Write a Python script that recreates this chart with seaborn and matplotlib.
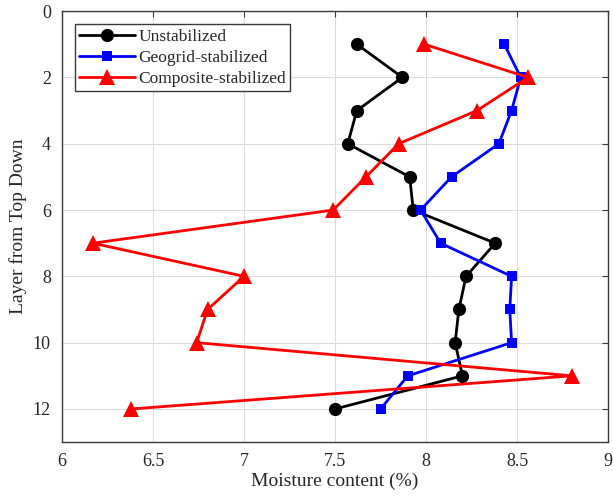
import pandas as pd
import matplotlib
matplotlib.use("Agg")
import matplotlib.pyplot as plt
import seaborn as sns

# Moisture content (%) per layer
layers = [1, 2, 3, 4, 5, 6, 7, 8, 9, 10, 11, 12]
unstabilized = [7.62, 7.87, 7.62, 7.57, 7.91, 7.93, 8.38, 8.22, 8.18, 8.16, 8.20, 7.50]
geogrid = [8.43, 8.52, 8.47, 8.40, 8.14, 7.97, 8.08, 8.47, 8.46, 8.47, 7.90, 7.75]
composite = [7.99, 8.56, 8.28, 7.85, 7.67, 7.49, 6.17, 7.00, 6.80, 6.74, 8.80, 6.38]
series_names = ["Unstabilized", "Geogrid-stabilized", "Composite-stabilized"]

rows = []
for name, vals in zip(series_names, [unstabilized, geogrid, composite]):
    for layer, v in zip(layers, vals):
        rows.append({"series": name, "layer": layer, "moisture": v})
df = pd.DataFrame(rows)

sns.set_style("white")
plt.rcParams["font.family"] = ["Liberation Serif", "DejaVu Serif"]

fig = plt.figure(figsize=(6.13, 5.03), dpi=100)
ax = fig.add_axes([0.101, 0.121, 0.891, 0.857])

sns.lineplot(data=df, x="moisture", y="layer", hue="series", style="series",
             hue_order=series_names, style_order=series_names,
             palette={"Unstabilized": "black", "Geogrid-stabilized": "#0000ff",
                      "Composite-stabilized": "#ff0000"},
             markers={"Unstabilized": "o", "Geogrid-stabilized": "s",
                      "Composite-stabilized": "^"},
             dashes=False, sort=False, estimator=None, linewidth=2,
             markersize=9, markeredgewidth=0, ax=ax)

# tweak marker sizes per series
for line, ms in zip(ax.lines[:3], [9.5, 7.5, 11]):
    line.set_markersize(ms)

ax.set_xlim(6, 9)
ax.set_ylim(13, 0)
ax.set_xticks([6, 6.5, 7, 7.5, 8, 8.5, 9])
ax.set_xticklabels(["6", "6.5", "7", "7.5", "8", "8.5", "9"])
ax.set_yticks([0, 2, 4, 6, 8, 10, 12])
ax.grid(True, color="#dcdcdc", linewidth=0.8)
ax.set_axisbelow(True)
ax.tick_params(direction="in", length=4, labelsize=13, top=True, right=True,
               color="#3a3a3a", pad=8)
for s in ax.spines.values():
    s.set_color("#3a3a3a")
    s.set_linewidth(1.0)
ax.set_xlabel("Moisture content (%)", fontsize=14, labelpad=2)
ax.set_ylabel("Layer from Top Down", fontsize=14, labelpad=4)

handles, labels = ax.get_legend_handles_labels()
for h, ms in zip(handles, [9.5, 7.5, 11]):
    h.set_markersize(ms)
leg = ax.legend(handles, labels, loc="upper left", fontsize=12.5, frameon=True,
                fancybox=False, edgecolor="#3a3a3a", framealpha=1,
                borderpad=0.25, labelspacing=0.28, handlelength=3.2,
                handletextpad=0.2, borderaxespad=0.75)
leg.get_frame().set_linewidth(1.0)

fig.savefig("out.png", dpi=100)
